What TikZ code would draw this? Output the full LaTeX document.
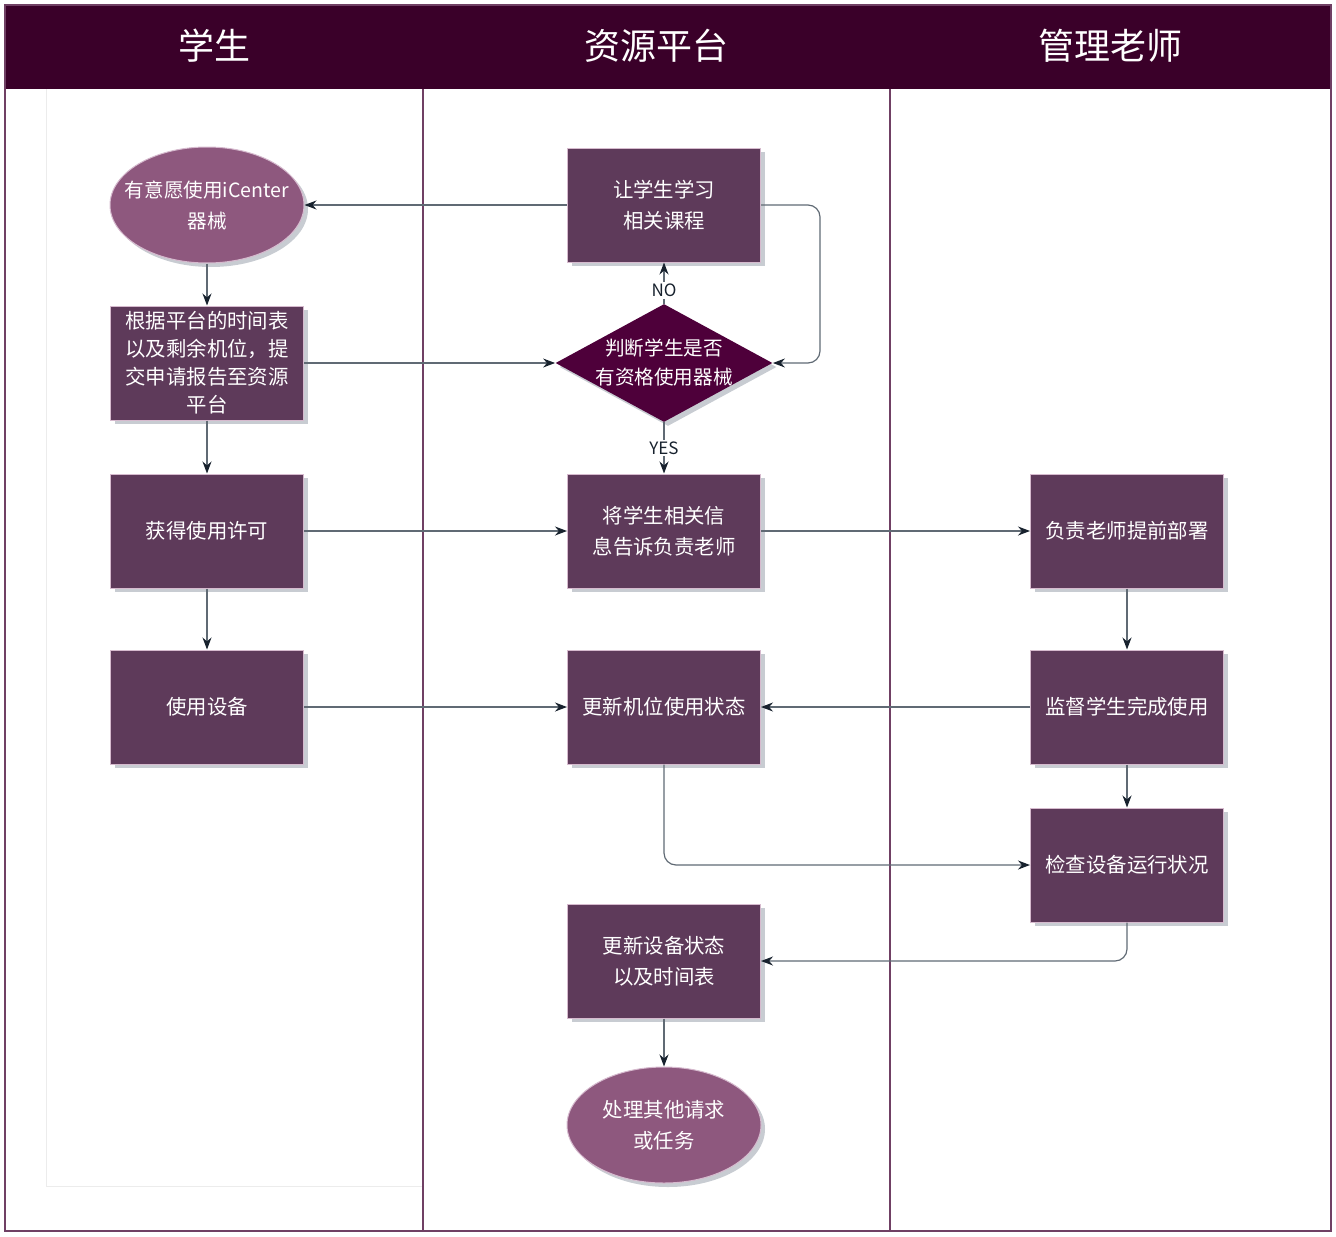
\documentclass[tikz,border=0pt]{standalone}
\usepackage{fontspec}
\usepackage{xcolor}
\usepackage{tikz}
\usetikzlibrary{shapes.geometric, arrows.meta, positioning, shadows}
\newfontfamily\cjk{Noto Sans CJK SC}
\definecolor{hdrplum}{RGB}{58,0,41}
\definecolor{boxplum}{RGB}{94,58,90}
\definecolor{ovalplum}{RGB}{142,88,126}
\definecolor{diaplum}{RGB}{78,0,58}
\definecolor{laneplum}{RGB}{112,64,100}
\definecolor{edgepink}{RGB}{214,186,206}
\definecolor{linegray}{RGB}{96,106,116}
\definecolor{tipdark}{RGB}{24,34,46}
\definecolor{shadegray}{RGB}{200,204,210}
\tikzset{
  stepbox/.style={rectangle, draw=edgepink, fill=boxplum, text=white,
    minimum width=96.5pt, minimum height=57pt, align=center,
    font=\cjk\fontsize{10.2}{15.5}\selectfont, line width=0.5pt,
    drop shadow={shadow xshift=2pt, shadow yshift=-2pt, fill=shadegray, opacity=1}},
  endoval/.style={ellipse, draw=edgepink, fill=ovalplum, text=white,
    minimum width=97pt, minimum height=58pt, inner xsep=-9pt, inner ysep=0pt, align=center,
    font=\cjk\fontsize{10.2}{15.5}\selectfont, line width=0.5pt,
    drop shadow={shadow xshift=2pt, shadow yshift=-2pt, fill=shadegray, opacity=1}},
  decision/.style={diamond, fill=diaplum, minimum width=108.5pt, minimum height=59pt,
    inner sep=0pt,
    drop shadow={shadow xshift=2pt, shadow yshift=-2pt, fill=shadegray, opacity=1}},
  dtext/.style={text=white, align=center, font=\cjk\fontsize{9.8}{14.5}\selectfont},
  lanetitle/.style={text=white, font=\cjk\fontsize{18}{20}\selectfont},
  flag/.style={fill=white, inner sep=1pt, text=tipdark, font=\cjk\fontsize{8.5}{9}\selectfont},
  arrow/.style={-{Stealth[length=6pt, width=4.5pt, color=tipdark]}, line width=0.6pt, color=linegray},
  elbow/.style={arrow, rounded corners=6pt}
}

\begin{document}
\begin{tikzpicture}[x=0.5pt, y=-0.5pt]
  \useasboundingbox (0,0) rectangle (1336,1236);

  % Swimlanes
  \draw[gray!15, line width=0.5pt] (46,89) rectangle (423,1186);
  \fill[hdrplum] (5,5) rectangle (1331,89);
  \draw[laneplum, line width=0.8pt] (5,5) rectangle (1331,1231);
  \draw[laneplum, line width=0.8pt] (423,89) -- (423,1231);
  \draw[laneplum, line width=0.8pt] (890,89) -- (890,1231);
  \node[lanetitle] (laneA) at (214,46) {学生};
  \node[lanetitle] (laneB) at (656,46) {资源平台};
  \node[lanetitle] (laneC) at (1110,46) {管理老师};

  % Student lane
  \node[endoval, font=\cjk\fontsize{9.8}{15.5}\selectfont] (wish) at (207,205) {有意愿使用iCenter\\器械};
  \node[stepbox, inner ysep=0pt, font=\cjk\fontsize{10.2}{14}\selectfont] (apply) at (207,363) {根据平台的时间表\\以及剩余机位，提\\交申请报告至资源\\平台};
  \node[stepbox] (permit) at (207,531) {获得使用许可};
  \node[stepbox] (use) at (207,707) {使用设备};

  % Platform lane
  \node[stepbox] (course) at (664,205) {让学生学习\\相关课程};
  \node[decision, label={[dtext]center:{判断学生是否\\有资格使用器械}}] (judge) at (664,363) {};
  \node[stepbox] (inform) at (664,531) {将学生相关信\\息告诉负责老师};
  \node[stepbox] (seat) at (664,707) {更新机位使用状态};
  \node[stepbox] (update) at (664,961) {更新设备状态\\以及时间表};
  \node[endoval] (other) at (664,1125) {处理其他请求\\或任务};

  % Teacher lane
  \node[stepbox] (deploy) at (1127,531) {负责老师提前部署};
  \node[stepbox] (watch) at (1127,707) {监督学生完成使用};
  \node[stepbox] (check) at (1127,865) {检查设备运行状况};

  % Connectors
  \draw[arrow] (wish) -- (apply);
  \draw[arrow] (course) -- (wish);
  \draw[elbow] (course.east) -| (820,363) -- (judge.east);
  \draw[arrow] (judge.north) -- node[flag, pos=0.32] {NO} (course.south);
  \draw[arrow] (apply) -- (judge.west);
  \draw[arrow] (judge.south) -- node[flag] {YES} (inform.north);
  \draw[arrow] (apply) -- (permit);
  \draw[arrow] (permit) -- (inform);
  \draw[arrow] (inform) -- (deploy);
  \draw[arrow] (permit) -- (use);
  \draw[arrow] (use) -- (seat);
  \draw[arrow] (watch) -- (seat);
  \draw[arrow] (deploy) -- (watch);
  \draw[arrow] (watch) -- (check);
  \draw[elbow] (seat.south) |- (check.west);
  \draw[elbow] (check.south) |- (update.east);
  \draw[arrow] (update) -- (other);
\end{tikzpicture}
\end{document}
